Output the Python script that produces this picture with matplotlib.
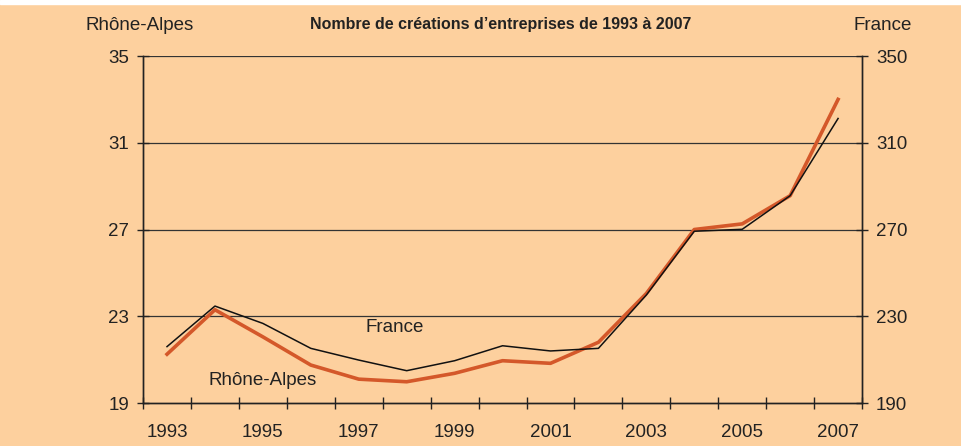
import matplotlib.pyplot as plt
from matplotlib.ticker import FixedLocator, NullFormatter, FixedFormatter
import numpy as np

years = [1993, 1994, 1995, 1996, 1997, 1998, 1999, 2000,
         2001, 2002, 2003, 2004, 2005, 2006, 2007]
rhone_alpes = [21.25, 23.3, 22.05, 20.75, 20.1, 19.98, 20.37, 20.95,
               20.83, 21.8, 24.05, 27.0, 27.26, 28.56, 33.0]
france = [216.0, 234.7, 226.7, 215.2, 209.8, 204.9, 209.5, 216.4,
          214.0, 215.2, 239.8, 269.2, 270.1, 285.6, 321.2]
left_ticks = [19, 23, 27, 31, 35]
right_ticks = [190, 230, 270, 310, 350]

bg = '#FDD09E'
red = '#D4582A'
ink = '#222222'
plt.rcParams['font.family'] = ['Liberation Sans', 'DejaVu Sans']

fig = plt.figure(figsize=(9.62, 4.46), dpi=100, facecolor=bg)
ax = fig.add_axes([0.1487, 0.0964, 0.7474, 0.778])
ax.set_facecolor(bg)
x = np.arange(len(years))

ax.set_xlim(-0.5, len(years) - 0.5)
ax.set_ylim(19, 35)
ax.set_yticks(left_ticks)
for v in left_ticks[1:]:
    ax.axhline(v, color='#333333', lw=0.9, zorder=1)

ax2 = ax.twinx()
ax2.set_ylim(190, 350)
ax2.set_yticks(right_ticks)

ax.plot(x, rhone_alpes, color=red, lw=2.6, zorder=3)
ax2.plot(x, france, color='#111111', lw=1.1, zorder=4)

# boundary ticks between years, labels on odd years
ax.xaxis.set_major_locator(FixedLocator(np.arange(-0.5, len(years), 1.0)))
ax.xaxis.set_major_formatter(NullFormatter())
ax.xaxis.set_minor_locator(FixedLocator(x[::2]))
ax.xaxis.set_minor_formatter(FixedFormatter([str(y) for y in years[::2]]))
ax.tick_params(axis='x', which='major', direction='inout', length=8, width=1, color=ink)
ax.tick_params(axis='x', which='minor', length=0, pad=15, labelsize=13.5, labelcolor=ink)
ax.tick_params(axis='y', direction='inout', length=8, width=1, color=ink, labelsize=13.5, labelcolor=ink, pad=6)
ax2.tick_params(axis='y', direction='inout', length=8, width=1, color=ink, labelsize=13.5, labelcolor=ink, pad=6)

for a in (ax, ax2):
    a.spines['top'].set_visible(False)
    for s in ('left', 'right', 'bottom'):
        a.spines[s].set_color(ink)
        a.spines[s].set_linewidth(1)

ax.text(4.76, 22.46, 'France', fontsize=13.5, color=ink, ha='center', va='center')
ax.text(2.0, 20.06, 'Rhône-Alpes', fontsize=13.5, color=ink, ha='center', va='center')

fig.text(0.1455, 0.942, 'Rhône-Alpes', fontsize=13.5, color=ink, ha='center', va='center')
fig.text(0.918, 0.942, 'France', fontsize=13.5, color=ink, ha='center', va='center')
fig.text(0.52, 0.945, 'Nombre de créations d\u2019entreprises de 1993 à 2007',
         fontsize=11.5, fontweight='bold', color=ink, ha='center', va='center',
         family=['Liberation Sans Narrow', 'Liberation Sans', 'DejaVu Sans'])

# white strip along the top edge
fig.patches.append(plt.Rectangle((0, 0.99), 1, 0.01, transform=fig.transFigure,
                                 color='white', zorder=0))

fig.savefig('out.png', dpi=100, facecolor=bg)
